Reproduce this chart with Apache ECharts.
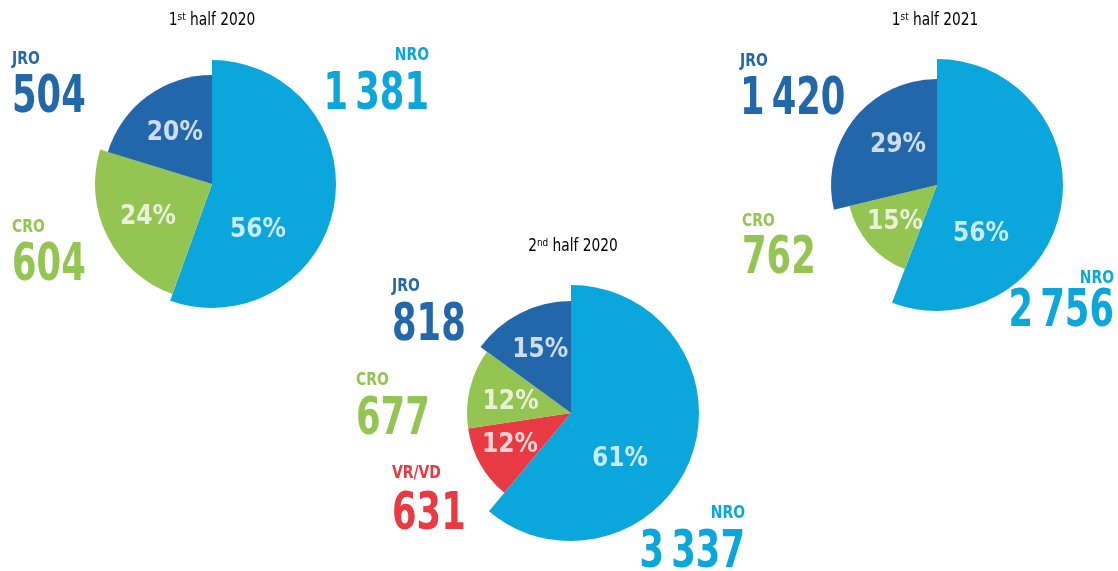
<!DOCTYPE html>
<html>
<head>
<meta charset="utf-8">
<script src="https://cdn.jsdelivr.net/npm/echarts@6/dist/echarts.min.js"></script>
<style>
  html, body { margin: 0; padding: 0; background: #fff; }
  #chart { width: 1118px; height: 571px; }
</style>
</head>
<body>
<div id="chart"></div>
<script>
// data
var titleNum = ['1', '2', '1'];
var titleSup = ['st', 'nd', 'st'];
var titleRest = [' half 2020', ' half 2020', ' half 2021'];

var cats1 = ['NRO', 'CRO', 'JRO'];
var vals1 = [1381, 604, 504];
var cats2 = ['NRO', 'VR/VD', 'CRO', 'JRO'];
var vals2 = [3337, 631, 677, 818];
var cats3 = ['NRO', 'CRO', 'JRO'];
var vals3 = [2756, 762, 1420];

var colors = { NRO: '#0aa6dc', JRO: '#2367ab', CRO: '#94c452', 'VR/VD': '#e83a42' };
var FONT = '"Liberation Sans Narrow", "DejaVu Sans Condensed", sans-serif';

// layout per pie: centre, slice radius, label shift, where the big numbers go
var pies = [
  {
    cats: cats1, vals: vals1, center: [212, 184], title: [212, 21],
    radius: { NRO: 124, CRO: 117, JRO: 109 },
    shift: { NRO: [-18, 35], CRO: [-9, 6], JRO: [-3, -4] },
    tag: { NRO: [429, 55, 96, 'right'], JRO: [12, 59.5, 98.5, 'left'], CRO: [12, 227, 267, 'left'] }
  },
  {
    cats: cats2, vals: vals2, center: [571, 413], title: [573, 247],
    radius: { NRO: 128, 'VR/VD': 104, CRO: 104, JRO: 112 },
    shift: { NRO: [-14, 23], 'VR/VD': [-13, 5], CRO: [-7, 2], JRO: [-4, -10] },
    tag: { JRO: [392, 286, 326.5, 'left'], CRO: [356, 380, 420.5, 'left'], 'VR/VD': [392, 473.5, 515.5, 'left'], NRO: [745, 513.5, 554, 'right'] }
  },
  {
    cats: cats3, vals: vals3, center: [937, 185], title: [935, 21],
    radius: { NRO: 126, CRO: 90, JRO: 106 },
    shift: { NRO: [-21, 37], CRO: [-6, 6], JRO: [5, -5] },
    tag: { JRO: [740, 61, 101, 'left'], CRO: [742, 221, 259.5, 'left'], NRO: [1114, 278.5, 313, 'right'] }
  }
];

function fmt (v) {
  return String(v).replace(/\B(?=(\d{3})+(?!\d))/g, '\u2009');
}

var series = [];
var graphics = [];

pies.forEach(function (p, k) {
  // one series per slice so each slice can get its own radius
  p.cats.forEach(function (cat, i) {
    series.push({
      type: 'pie',
      center: p.center,
      radius: [0, p.radius[cat]],
      startAngle: 90,
      clockwise: true,
      percentPrecision: 0,
      silent: true,
      itemStyle: { borderWidth: 0 },
      label: {
        position: 'inside',
        formatter: '{d}%',
        color: 'rgba(255,255,255,0.78)',
        fontFamily: FONT,
        fontWeight: 'bold',
        fontSize: 26
      },
      labelLine: { show: false },
      labelLayout: { dx: p.shift[cat][0], dy: p.shift[cat][1] },
      data: p.cats.map(function (c, j) {
        return {
          name: c,
          value: p.vals[j],
          itemStyle: { color: j === i ? colors[c] : 'rgba(0,0,0,0)' },
          label: { show: j === i }
        };
      })
    });

    var t = p.tag[cat];
    graphics.push({
      type: 'text', x: t[0], y: t[1], scaleX: 0.86,
      style: { text: cat, fill: colors[cat], font: 'bold 18px ' + FONT, align: t[3], verticalAlign: 'middle' }
    });
    graphics.push({
      type: 'text', x: t[0], y: t[2], scaleX: 0.77,
      style: { text: fmt(p.vals[i]), fill: colors[cat], font: 'bold 51px ' + FONT, align: t[3], verticalAlign: 'middle' }
    });
  });

  graphics.push({
    type: 'text', x: p.title[0], y: p.title[1], scaleX: 0.9,
    style: {
      text: '{a|' + titleNum[k] + '}{s|' + titleSup[k] + '}{a|' + titleRest[k] + '}',
      align: 'center',
      verticalAlign: 'middle',
      rich: {
        a: { fontFamily: FONT, fontSize: 17, color: '#555' },
        s: { fontFamily: FONT, fontSize: 11, color: '#555', verticalAlign: 'top', padding: [0, 0, 8, 0] }
      }
    }
  });
});

var myChart = echarts.init(document.getElementById('chart'));
myChart.setOption({
  backgroundColor: '#fff',
  animation: false,
  series: series,
  graphic: graphics
});
</script>
</body>
</html>
